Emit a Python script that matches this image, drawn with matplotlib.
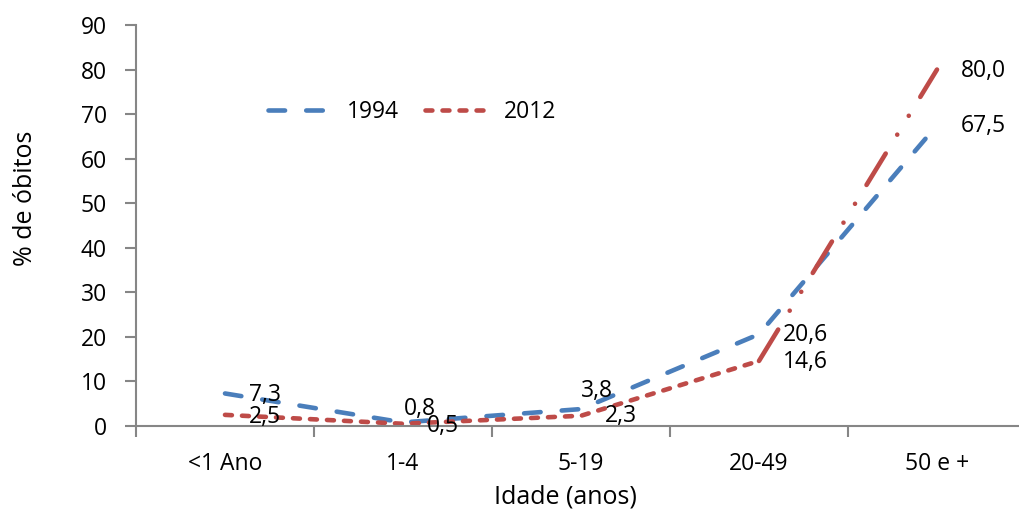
import matplotlib
matplotlib.use("Agg")
import matplotlib.pyplot as plt

categories = ["<1 Ano", "1-4", "5-19", "20-49", "50 e +"]
values_1994 = [7.3, 0.8, 3.8, 20.6, 67.5]
values_2012 = [2.5, 0.5, 2.3, 14.6, 80.0]
labels_1994 = ["7,3", "0,8", "3,8", "20,6", "67,5"]
labels_2012 = ["2,5", "0,5", "2,3", "14,6", "80,0"]
yticks = [0, 10, 20, 30, 40, 50, 60, 70, 80, 90]

# label placement (data coords)
lab_pos_1994 = [(0.225, 6.9), (1.096, 3.8), (2.09, 7.8), (3.26, 20.4), (4.26, 67.3)]
lab_pos_2012 = [(0.225, 2.0), (1.225, 0.1), (2.225, 2.2), (3.26, 14.4), (4.26, 79.7)]

plt.rcParams['font.family'] = ['Open Sans', 'DejaVu Sans']
FS = 16.5
FS_T = 18

blue = "#4A7EBB"
red = "#BE4B48"
axcol = "#868686"

fig = plt.figure(figsize=(10.2, 5.11), dpi=100)
ax = fig.add_axes([136/1020, 85/511, 890/1020, 401/511])

x = list(range(len(categories)))
lw = 4.6 * 72 / 100

l1, = ax.plot(x, values_1994, color=blue, lw=lw, solid_capstyle='round',
              dash_capstyle='round', linestyle=(0, (3.6, 4.6)), clip_on=False)
l2, = ax.plot(x[:4], values_2012[:4], color=red, lw=lw, dash_capstyle='round',
              linestyle=(0, (1.5, 2.2)), clip_on=False)
ax.plot(x[3:], values_2012[3:], color=red, lw=lw, dash_capstyle='round',
        linestyle=(0, (8.0, 4.8, 0.01, 4.8, 0.01, 4.8)), clip_on=False)

for (px, py), t in zip(lab_pos_1994, labels_1994):
    ax.text(px, py, t, fontsize=FS, ha='center', va='center', color='black')
for (px, py), t in zip(lab_pos_2012, labels_2012):
    ax.text(px, py, t, fontsize=FS, ha='center', va='center', color='black')

ax.set_xlim(-0.5, 4.5)
ax.set_ylim(0, 90)
ax.set_yticks(yticks)
ax.set_yticklabels([str(v) for v in yticks], fontsize=FS)
ax.set_xticks(x)
ax.set_xticklabels(categories, fontsize=FS)
ax.set_xticks([i + 0.5 for i in range(-1, 5)], minor=True)
ax.tick_params(axis='x', which='major', length=0, pad=19)
ax.tick_params(axis='x', which='minor', length=8, width=1.5, color=axcol, direction='out')
ax.tick_params(axis='y', length=8, width=1.5, color=axcol, direction='out', pad=13)

for s in ['top', 'right']:
    ax.spines[s].set_visible(False)
for s in ['left', 'bottom']:
    ax.spines[s].set_color(axcol)
    ax.spines[s].set_linewidth(1.5)

ax.set_ylabel("% de óbitos", fontsize=FS_T)
ax.yaxis.set_label_coords((38 - 136) / 890, (426 - 198) / 401)
ax.set_xlabel("Idade (anos)", fontsize=FS_T)
ax.xaxis.set_label_coords((565 - 136) / 890, -(484 - 426) / 401)

leg = ax.legend([l1, l2], ["1994", "2012"], loc='center', bbox_to_anchor=((412 - 136) / 890, (426 - 112) / 401),
                ncol=2, frameon=False, fontsize=FS, handlelength=2.8, columnspacing=1.15, handletextpad=0.65)

fig.savefig("out.png", dpi=100)
